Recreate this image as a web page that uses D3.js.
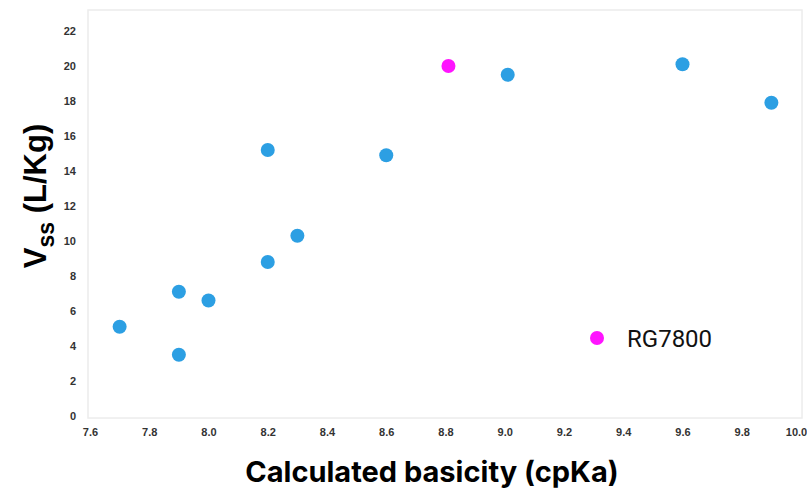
<!DOCTYPE html>
<html>
<head>
<meta charset="utf-8">
<script src="https://cdn.jsdelivr.net/npm/d3@7"></script>
<style>
  body { margin: 0; background: #fff; }
  #T { width: 807px; height: 491px; }
</style>
</head>
<body>
<div id="T"></div>
<script>
// compounds: calculated pKa vs volume of distribution
const cpKa = [7.7, 7.9, 7.9, 8.0, 8.2, 8.2, 8.3, 8.6, 9.01, 9.6, 9.9]
const vss = [5.1, 7.1, 3.5, 6.6, 8.8, 15.2, 10.3, 14.9, 19.5, 20.1, 17.9]
const highlightName = "RG7800"
const highlightPka = [8.81]
const highlightVss = [20.0]
const xTicks = [7.6, 7.8, 8.0, 8.2, 8.4, 8.6, 8.8, 9.0, 9.2, 9.4, 9.6, 9.8, 10.0]
const yTicks = [0, 2, 4, 6, 8, 10, 12, 14, 16, 18, 20, 22]

const parent = d3.select('#T');
const width = 807, height = 491;
const SVG = parent.append('svg')
    .attr("width", width)
    .attr("height", height);

const x = d3.scaleLinear().domain([7.6, 10.0]).range([90, 801]);
const y = d3.scaleLinear().domain([0, 22]).range([416, 31]);

// plot frame
SVG.append("rect")
    .attr("x", 88).attr("y", 10)
    .attr("width", 714).attr("height", 408)
    .attr("fill", "none")
    .attr("stroke", "#ececec")
    .attr("stroke-width", 1.5);

const xAxis = SVG.append("g")
    .attr("transform", "translate(0,418)")
    .call(d3.axisBottom(x).tickValues(xTicks).tickFormat(d3.format(".1f")).tickSize(0).tickPadding(10));
const yAxis = SVG.append("g")
    .attr("transform", "translate(84,0)")
    .call(d3.axisLeft(y).tickValues(yTicks).tickSize(0).tickPadding(8));
[xAxis, yAxis].forEach(a => {
    a.select(".domain").remove();
    a.selectAll("text")
        .attr("fill", "#333")
        .style("font-family", "Liberation Sans, Arial, sans-serif")
        .style("font-weight", "bold")
        .style("font-size", "11px");
});
// last label sits at the page edge, pull it in a bit
xAxis.selectAll(".tick").filter(d => d === 10.0).select("text").attr("dx", -5);

const pts = cpKa.map((d, i) => ({ x: d, y: vss[i] }));
SVG.selectAll("circle.pt")
    .data(pts)
    .enter().append("circle")
    .attr("class", "pt")
    .attr("cx", d => x(d.x))
    .attr("cy", d => y(d.y))
    .attr("r", 7)
    .attr("fill", "#2c9fe3");

SVG.selectAll("circle.hl")
    .data(highlightPka.map((d, i) => ({ x: d, y: highlightVss[i] })))
    .enter().append("circle")
    .attr("class", "hl")
    .attr("cx", d => x(d.x))
    .attr("cy", d => y(d.y))
    .attr("r", 7)
    .attr("fill", "#ff14ff");

// legend
SVG.append("circle")
    .attr("cx", 597).attr("cy", 338).attr("r", 7)
    .attr("fill", "#ff14ff");
SVG.append("text")
    .attr("x", 627).attr("y", 347)
    .style("font-family", "Roboto, sans-serif")
    .style("font-size", "24px")
    .attr("fill", "#111")
    .text(highlightName);

// axis titles
SVG.append("text")
    .attr("x", 432).attr("y", 482)
    .attr("text-anchor", "middle")
    .style("font-family", "Inter, sans-serif")
    .style("font-weight", "bold")
    .style("font-size", "29px")
    .attr("fill", "#000")
    .text("Calculated basicity (cpKa)");

const yl = SVG.append("text")
    .attr("transform", "translate(46,196) rotate(-90)")
    .attr("text-anchor", "middle")
    .style("font-family", "Liberation Sans, Arial, sans-serif")
    .style("font-weight", "bold")
    .style("font-size", "31px")
    .attr("fill", "#000");
yl.append("tspan").text("V");
yl.append("tspan").attr("dy", 8).style("font-size", "23px").text("ss");
yl.append("tspan").attr("dy", -8).text(" (L/Kg)");
</script>
</body>
</html>
